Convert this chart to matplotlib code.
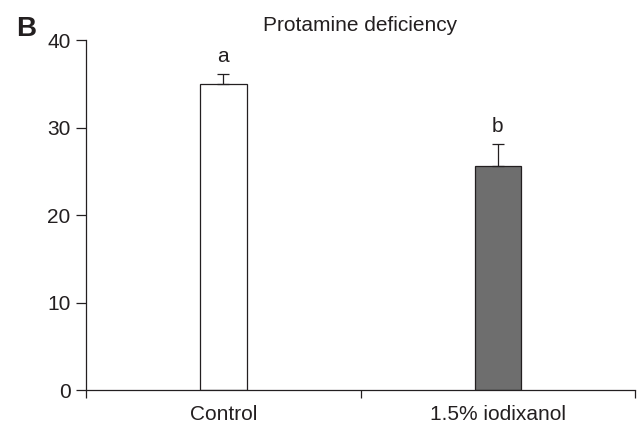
import matplotlib
matplotlib.use("Agg")
import matplotlib.pyplot as plt

categories = ["Control", "1.5% iodixanol"]
values = [35.0, 25.6]
errors = [1.1, 2.5]
letters = ["a", "b"]
colors = ["#ffffff", "#6e6e6e"]
yticks = [0, 10, 20, 30, 40]

plt.rcParams['font.family'] = ['Liberation Sans', 'DejaVu Sans']
ink = "#231f20"

fig = plt.figure(figsize=(6.41, 4.26), dpi=100)
ax = fig.add_axes([0.134, 0.0845, 0.857, 0.8215])

x = list(range(len(categories)))
ax.bar(x, values, width=0.17, color=colors, edgecolor=ink, linewidth=0.9, zorder=2)
ax.errorbar(x, values, yerr=[[0]*len(errors), errors], fmt='none', ecolor=ink,
            elinewidth=0.9, capsize=4.5, capthick=0.9, zorder=3)
for xi, v, e, l in zip(x, values, errors, letters):
    ax.text(xi, v + e + 2.05, l, ha='center', va='center', fontsize=15, color=ink)

ax.set_xlim(-0.5, 1.5)
ax.set_ylim(0, 40)
ax.set_yticks(yticks)
ax.set_xticks([-0.5, 0.5, 1.5])
ax.set_xticklabels([])
ax.set_xticks(x, minor=True)
ax.set_xticklabels(categories, minor=True, fontsize=15, color=ink)
ax.tick_params(axis='x', which='minor', length=0, pad=11)
ax.tick_params(axis='x', which='major', length=6, width=0.9, color=ink, direction='out')
ax.tick_params(axis='y', length=7, width=0.9, color=ink, labelsize=15, labelcolor=ink, pad=4)
for s in ['top', 'right']:
    ax.spines[s].set_visible(False)
for s in ['left', 'bottom']:
    ax.spines[s].set_color(ink)
    ax.spines[s].set_linewidth(0.9)

fig.text(0.5615, 0.941, "Protamine deficiency", ha='center', va='center', fontsize=15, color=ink)
fig.text(0.025, 0.933, "B", ha='left', va='center', fontsize=20, fontweight='bold', color=ink)

fig.savefig("out.png", dpi=100)
